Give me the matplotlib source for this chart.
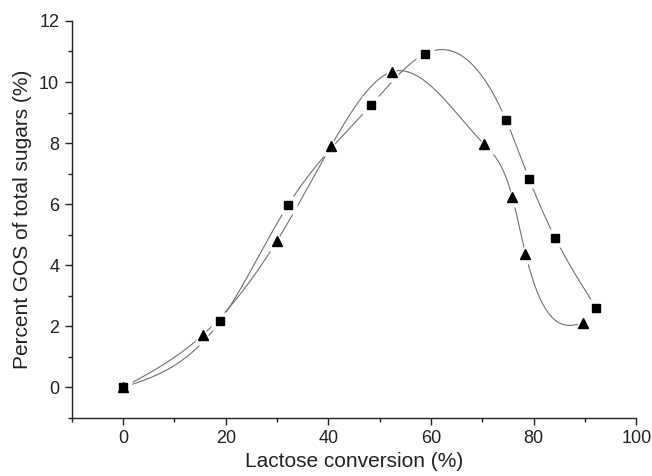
import numpy as np
import matplotlib
matplotlib.use("Agg")
import matplotlib.pyplot as plt
from matplotlib.ticker import MultipleLocator

plt.rcParams["font.family"] = ["Liberation Sans", "DejaVu Sans"]

# squares
SQ_X = [0, 18.9, 32.1, 48.3, 58.8, 74.6, 79.1, 84.2, 92.2]
SQ_Y = [0, 2.17, 5.96, 9.24, 10.92, 8.76, 6.83, 4.89, 2.61]

# triangles
TR_X = [0, 15.6, 30.0, 40.5, 52.3, 70.3, 75.8, 78.4, 89.7]
TR_Y = [0, 1.73, 4.8, 7.9, 10.33, 7.97, 6.25, 4.38, 2.1]


def natural_spline(x, y, n=400):
    x = np.asarray(x, float)
    y = np.asarray(y, float)
    k = len(x)
    h = np.diff(x)
    A = np.zeros((k, k))
    b = np.zeros(k)
    A[0, 0] = A[-1, -1] = 1
    for i in range(1, k - 1):
        A[i, i - 1] = h[i - 1]
        A[i, i] = 2 * (h[i - 1] + h[i])
        A[i, i + 1] = h[i]
        b[i] = 6 * ((y[i + 1] - y[i]) / h[i] - (y[i] - y[i - 1]) / h[i - 1])
    m = np.linalg.solve(A, b)
    xs = np.linspace(x[0], x[-1], n)
    idx = np.clip(np.searchsorted(x, xs) - 1, 0, k - 2)
    x0, x1 = x[idx], x[idx + 1]
    hh = x1 - x0
    t0, t1 = x1 - xs, xs - x0
    ys = (m[idx] * t0 ** 3 + m[idx + 1] * t1 ** 3) / (6 * hh) \
        + (y[idx] / hh - m[idx] * hh / 6) * t0 \
        + (y[idx + 1] / hh - m[idx + 1] * hh / 6) * t1
    return xs, ys


fig = plt.figure(figsize=(6.52, 4.76), dpi=100)
ax = fig.add_axes([0.110, 0.122, 0.866, 0.834])

line_c = "#707070"
for xs_, ys_ in [(SQ_X, SQ_Y), (TR_X, TR_Y)]:
    sx, sy = natural_spline(xs_, ys_)
    ax.plot(sx, sy, color=line_c, lw=0.8, zorder=1)

# white halo to leave a gap in the curves near the symbols
ax.plot(SQ_X, SQ_Y, "s", ms=13, color="white", mec="none", zorder=2)
ax.plot(TR_X, TR_Y, "^", ms=14, color="white", mec="none", zorder=2)
ax.plot(SQ_X, SQ_Y, "s", ms=5.8, color="black", zorder=3)
ax.plot(TR_X, TR_Y, "^", ms=7, color="black", zorder=3)

ax.set_xlim(-10, 100)
ax.set_ylim(-1, 12)
ax.xaxis.set_major_locator(MultipleLocator(20))
ax.xaxis.set_minor_locator(MultipleLocator(10))
ax.yaxis.set_major_locator(MultipleLocator(2))
ax.yaxis.set_minor_locator(MultipleLocator(1))
ax.set_xticks([0, 20, 40, 60, 80, 100])

for s in ["top", "right"]:
    ax.spines[s].set_visible(False)
for s in ["left", "bottom"]:
    ax.spines[s].set_linewidth(1.0)
    ax.spines[s].set_color("#222222")

ax.tick_params(which="major", direction="out", length=5, width=1, labelsize=13,
               colors="#222222", pad=4)
ax.tick_params(which="minor", direction="out", length=3, width=1, colors="#222222")
ax.set_xlabel("Lactose conversion (%)", fontsize=15, color="#222222", labelpad=3)
ax.set_ylabel("Percent GOS of total sugars (%)", fontsize=15, color="#222222", labelpad=5)

fig.savefig("out.png", dpi=100)
